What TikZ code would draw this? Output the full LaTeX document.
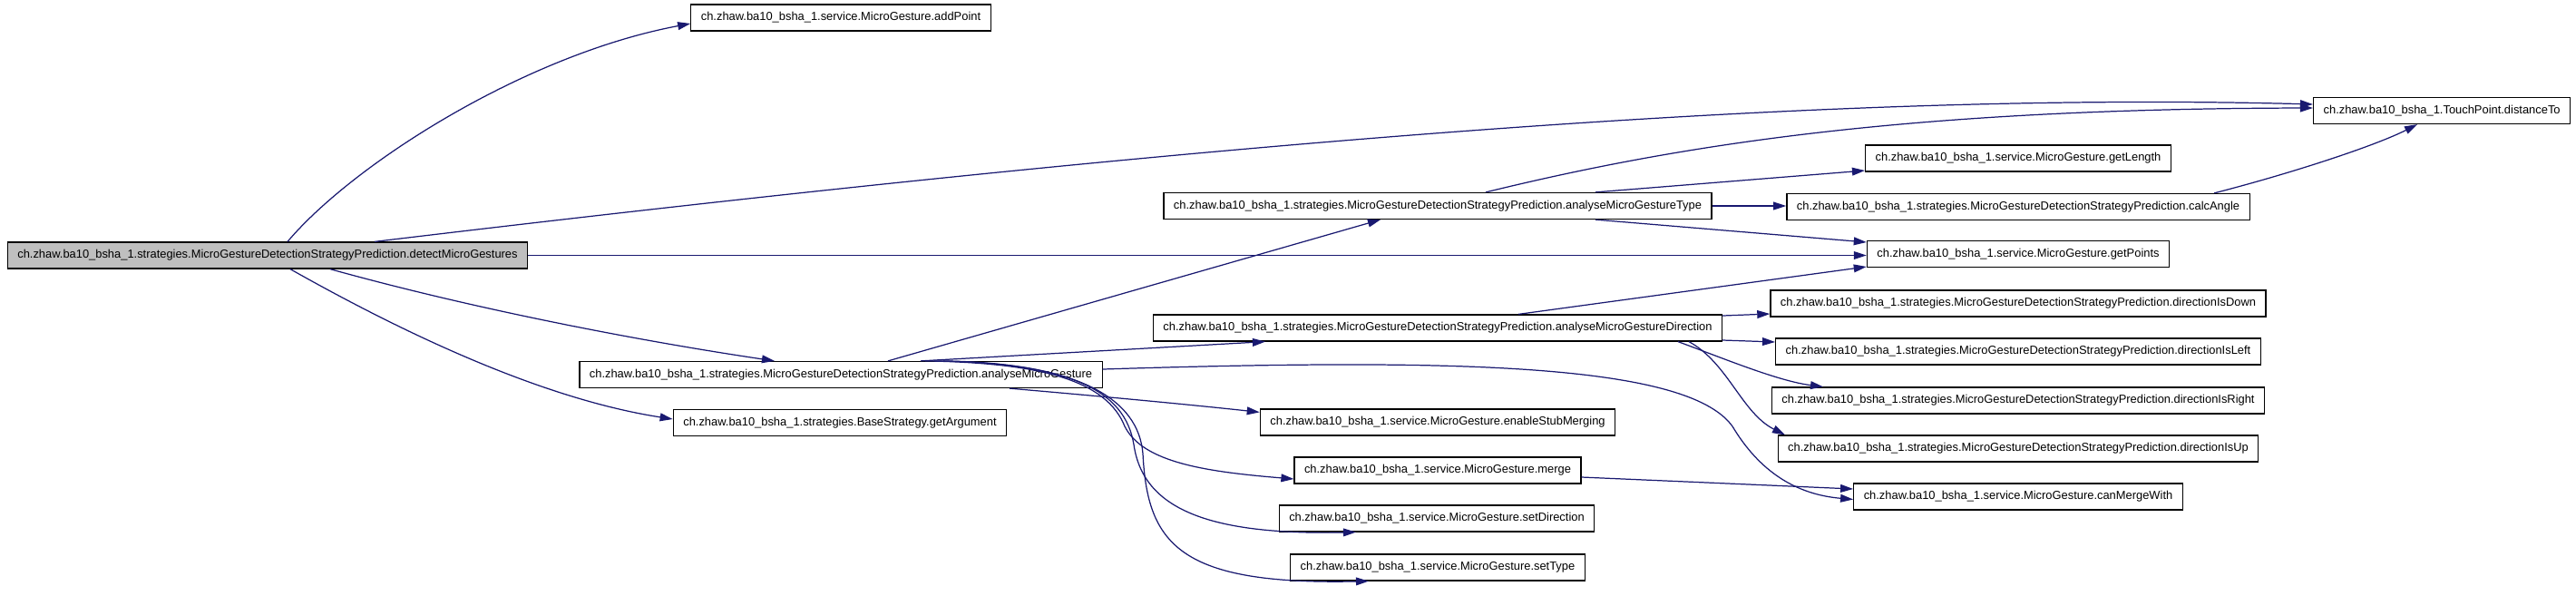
\documentclass[tikz,border=0pt]{standalone}
\usepackage{fontspec}
\setmainfont{Liberation Sans}
\usetikzlibrary{calc, positioning, shapes, arrows.meta}
\definecolor{edgeblue}{HTML}{191970}
\definecolor{rootgray}{HTML}{BFBFBF}

\begin{document}
\begin{tikzpicture}[
    fn/.style={draw=black,line width=.7pt,fill=white,inner xsep=.22cm,inner ysep=0pt,
        minimum height=.58cm,font=\fontsize{7.34}{8.8}\selectfont},
    call/.style={edgeblue,line width=.7pt,-{Triangle[length=8pt,width=5pt]}}
]
    \useasboundingbox (0,0) rectangle (56.8,-13.12);

    \node[fn,fill=rootgray] (det) at (5.90,-5.63) {ch.zhaw.ba10\_bsha\_1.strategies.MicroGestureDetectionStrategyPrediction.detectMicroGestures};

    \node[fn] (addP) at (18.54,-0.39) {ch.zhaw.ba10\_bsha\_1.service.MicroGesture.addPoint};
    \node[fn] (amg) at (18.54,-8.26) {ch.zhaw.ba10\_bsha\_1.strategies.MicroGestureDetectionStrategyPrediction.analyseMicroGesture};
    \node[fn] (garg) at (18.52,-9.32) {ch.zhaw.ba10\_bsha\_1.strategies.BaseStrategy.getArgument};

    \node[fn] (atype) at (31.70,-4.54) {ch.zhaw.ba10\_bsha\_1.strategies.MicroGestureDetectionStrategyPrediction.analyseMicroGestureType};
    \node[fn] (adir) at (31.70,-7.23) {ch.zhaw.ba10\_bsha\_1.strategies.MicroGestureDetectionStrategyPrediction.analyseMicroGestureDirection};
    \node[fn] (enst) at (31.70,-9.31) {ch.zhaw.ba10\_bsha\_1.service.MicroGesture.enableStubMerging};
    \node[fn] (mrg) at (31.70,-10.37) {ch.zhaw.ba10\_bsha\_1.service.MicroGesture.merge};
    \node[fn] (sdir) at (31.68,-11.43) {ch.zhaw.ba10\_bsha\_1.service.MicroGesture.setDirection};
    \node[fn] (styp) at (31.70,-12.51) {ch.zhaw.ba10\_bsha\_1.service.MicroGesture.setType};

    \node[fn] (glen) at (44.50,-3.49) {ch.zhaw.ba10\_bsha\_1.service.MicroGesture.getLength};
    \node[fn] (calc) at (44.50,-4.56) {ch.zhaw.ba10\_bsha\_1.strategies.MicroGestureDetectionStrategyPrediction.calcAngle};
    \node[fn] (gpts) at (44.50,-5.60) {ch.zhaw.ba10\_bsha\_1.service.MicroGesture.getPoints};
    \node[fn] (dDown) at (44.50,-6.69) {ch.zhaw.ba10\_bsha\_1.strategies.MicroGestureDetectionStrategyPrediction.directionIsDown};
    \node[fn] (dLeft) at (44.50,-7.75) {ch.zhaw.ba10\_bsha\_1.strategies.MicroGestureDetectionStrategyPrediction.directionIsLeft};
    \node[fn] (dRight) at (44.50,-8.83) {ch.zhaw.ba10\_bsha\_1.strategies.MicroGestureDetectionStrategyPrediction.directionIsRight};
    \node[fn] (dUp) at (44.50,-9.89) {ch.zhaw.ba10\_bsha\_1.strategies.MicroGestureDetectionStrategyPrediction.directionIsUp};
    \node[fn] (cmw) at (44.50,-10.95) {ch.zhaw.ba10\_bsha\_1.service.MicroGesture.canMergeWith};

    \node[fn,anchor=west] (dist) at (51.0,-2.44) {ch.zhaw.ba10\_bsha\_1.TouchPoint.distanceTo};

    % detectMicroGestures
    \draw[call] ([xshift=.44cm]det.north) .. controls (7.8,-3.6) and (11.6,-1.2) .. ([yshift=-.13cm]addP.west);
    \draw[call] ([xshift=2.36cm]det.north) .. controls (26,-3.2) and (40,-2.0) .. ([yshift=.14cm]dist.west);
    \draw[call] (det.east) -- (det.east -| gpts.west);
    \draw[call] ([xshift=1.38cm]det.south) .. controls (10.4,-6.8) and (14,-7.5) .. ([xshift=-1.46cm]amg.north);
    \draw[call] ([xshift=.5cm]det.south) .. controls (9,-7.4) and (12,-8.8) .. ([yshift=.08cm]garg.west);

    % analyseMicroGesture
    \draw[call] ([xshift=1.04cm]amg.north) -- ([xshift=-1.26cm]atype.south);
    \draw[call] ([xshift=1.76cm]amg.north) -- ([xshift=-3.8cm]adir.south);
    \draw[call] ([xshift=3.72cm]amg.south) .. controls (25,-8.8) and (26.6,-8.96) .. ([yshift=-.08cm]enst.north west);
    \draw[call] ([xshift=1.86cm]amg.north) .. controls (23,-8) and (24.4,-8.4) .. (24.8,-9.4)
        .. controls (25.2,-10.2) and (26.6,-10.4) .. ([yshift=-.19cm]mrg.west);
    \draw[call] ([xshift=2.06cm]amg.north) .. controls (23.6,-8) and (24.8,-8.6) .. (25,-9.8)
        .. controls (25.2,-11.2) and (26.6,-11.8) .. ([xshift=-1.78cm]sdir.south);
    \draw[call] ([xshift=2.26cm]amg.north) .. controls (23.8,-8) and (25.1,-8.8) .. (25.2,-10)
        .. controls (25.3,-12) and (26,-12.9) .. ([xshift=-1.52cm]styp.south);
    \draw[call] ([yshift=.12cm]amg.east) .. controls (32,-7.9) and (37.2,-8) .. (38.2,-9.4)
        .. controls (38.8,-10.4) and (39.6,-10.9) .. ([yshift=-.06cm]cmw.west);

    % analyseMicroGestureType
    \draw[call] ([xshift=1.06cm]atype.north) .. controls (37,-3.2) and (42,-2.4) .. ([yshift=.06cm]dist.west);
    \draw[call] ([xshift=3.48cm]atype.north) -- ([yshift=-.27cm]glen.west);
    \draw[call] (atype.east) -- (atype.east -| calc.west);
    \draw[call] ([xshift=3.48cm]atype.south) -- ([yshift=.26cm]gpts.west);

    % analyseMicroGestureDirection
    \draw[call] ([xshift=1.78cm]adir.north) -- ([yshift=-.28cm]gpts.west);
    \draw[call] ([yshift=.27cm]adir.east) -- ([yshift=-.23cm]dDown.west);
    \draw[call] ([yshift=-.27cm]adir.east) -- ([yshift=.21cm]dLeft.west);
    \draw[call] ([xshift=5.3cm]adir.south) .. controls (38,-7.9) and (39.2,-8.4) .. ([xshift=-4.3cm]dRight.north);
    \draw[call] ([xshift=5.54cm]adir.south) .. controls (38.1,-8.0) and (38.4,-9.1) .. ([xshift=-5.14cm]dUp.north);

    % calcAngle, merge
    \draw[call] ([xshift=4.32cm]calc.north) .. controls (50.6,-3.8) and (52.4,-3.2) .. ([xshift=2.3cm]dist.south west);
    \draw[call] ([yshift=-.15cm]mrg.east) -- ([yshift=.17cm]cmw.west);
\end{tikzpicture}
\end{document}
